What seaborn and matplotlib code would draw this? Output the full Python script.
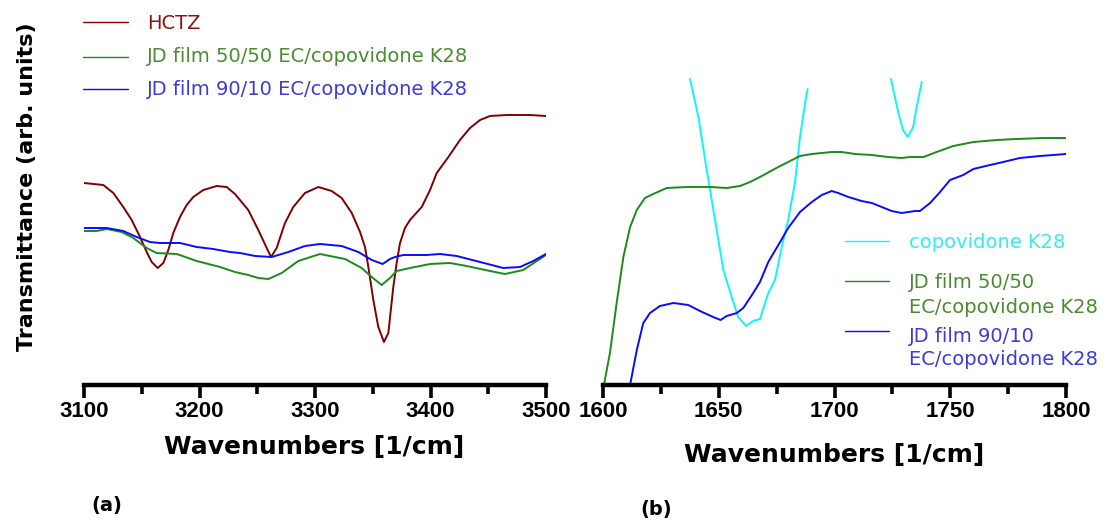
import matplotlib
matplotlib.use("Agg")
import matplotlib.pyplot as plt
from matplotlib.lines import Line2D
from matplotlib.ticker import MultipleLocator
import seaborn as sns

# ---------------- data: (a) 3100-3500 cm^-1 region ----------------
hctz_wn = [3100, 3116.7, 3125.4, 3134.0, 3141.3, 3148.5, 3154.3, 3158.6, 3163.8, 3168.7,
           3173.0, 3177.3, 3183.1, 3188.9, 3194.6, 3203.3, 3214.9, 3223.5, 3230.7, 3242.2,
           3250.9, 3258.2, 3261.9, 3266.8, 3274.0, 3281.2, 3291.3, 3302.9, 3314.4, 3323.1,
           3331.8, 3339.0, 3343.3, 3346.2, 3350.5, 3354.8, 3359.7, 3363.5, 3367.8, 3370.7,
           3373.6, 3377.9, 3382.2, 3392.4, 3399.6, 3405.4, 3415.5, 3425.5, 3434.2, 3442.9,
           3451.5, 3466.0, 3486.1, 3500]
hctz_t = [202, 200, 192, 178, 165, 148, 133, 123, 117, 122,
          135, 152, 168, 180, 188, 195, 199, 198, 191, 175,
          155, 137, 128, 137, 162, 178, 192, 198, 194, 187,
          172, 153, 138, 118, 85, 58, 43, 52, 98, 122,
          142, 157, 165, 178, 195, 212, 228, 245, 257, 265,
          269, 270, 270, 269]

film5050_a_wn = [3100, 3111.0, 3119.7, 3132.6, 3142.7, 3154.3, 3162.9, 3180.3, 3197.6, 3217.8,
                 3230.7, 3242.2, 3250.9, 3259.6, 3271.2, 3285.5, 3304.3, 3326.0, 3340.4, 3349.1,
                 3357.7, 3364.9, 3370.7, 3382.2, 3399.6, 3416.9, 3431.3, 3451.5, 3464.5, 3480.3, 3500]
film5050_a_t = [154, 154, 156, 153, 147, 137, 132, 131, 124, 118,
                113, 110, 107, 106, 112, 124, 131, 126, 117, 108,
                100, 107, 114, 117, 121, 122, 119, 114, 111, 115, 130]

film9010_a_wn = [3100, 3119.7, 3134.0, 3145.6, 3157.1, 3165.8, 3183.1, 3197.6, 3211.9, 3226.4,
                 3235.1, 3248.1, 3262.5, 3276.9, 3291.3, 3304.3, 3323.1, 3337.5, 3349.1, 3358.6,
                 3364.9, 3369.3, 3376.4, 3396.7, 3408.2, 3422.7, 3442.9, 3463.0, 3477.5, 3489.0, 3500]
film9010_a_t = [157, 157, 154, 148, 143, 142, 142, 138, 136, 133,
                132, 129, 128, 133, 139, 141, 139, 133, 125, 121,
                126, 128, 130, 130, 131, 129, 123, 117, 118, 124, 131]

# ---------------- data: (b) 1600-1800 cm^-1 region ----------------
copo_band1_wn = [1637.6, 1641.2, 1644.8, 1648.4, 1652.0, 1655.6, 1658.4, 1661.8, 1664.9, 1667.8,
                 1671.4, 1674.3, 1677.2, 1680.0, 1682.9, 1685.1, 1687.3, 1688.4]
copo_band1_t = [306, 268, 215, 165, 115, 88, 68, 59, 64, 66,
                92, 105, 138, 165, 202, 248, 282, 296]
copo_band2_wn = [1724.4, 1727.6, 1729.6, 1731.6, 1734.0, 1735.5, 1737.7]
copo_band2_t = [306, 272, 255, 248, 258, 278, 303]

film5050_b_wn = [1600.4, 1603.0, 1605.9, 1608.8, 1611.7, 1614.6, 1618.1, 1621.7, 1627.5, 1636.2,
                 1646.2, 1653.4, 1659.2, 1663.5, 1667.8, 1675.7, 1685.1, 1690.2, 1698.8, 1703.1,
                 1708.9, 1716.1, 1723.2, 1729.0, 1732.6, 1738.4, 1744.1, 1751.3, 1760.0, 1770.1,
                 1778.7, 1790.2, 1800]
film5050_b_t = [0, 32, 82, 128, 158, 175, 187, 191, 197, 198,
                198, 197, 199, 203, 208, 218, 229, 231, 233, 233,
                231, 230, 228, 227, 228, 228, 233, 239, 243, 245,
                246, 247, 247]

film9010_b_wn = [1611.7, 1614.6, 1617.4, 1620.3, 1624.6, 1630.4, 1636.8, 1641.9, 1647.6, 1650.8,
                 1653.4, 1657.8, 1660.6, 1664.9, 1667.8, 1671.4, 1676.5, 1680.0, 1685.1, 1690.2,
                 1694.5, 1698.8, 1701.6, 1706.0, 1711.7, 1716.1, 1720.4, 1724.7, 1729.0, 1734.8,
                 1736.9, 1741.3, 1745.6, 1749.9, 1755.6, 1760.0, 1767.2, 1772.9, 1780.1, 1788.8,
                 1794.5, 1800]
film9010_b_t = [0, 35, 62, 72, 79, 82, 80, 74, 68, 65,
                69, 72, 77, 92, 103, 123, 143, 157, 173, 183,
                190, 194, 192, 188, 184, 182, 178, 174, 172, 174,
                174, 182, 193, 205, 210, 216, 220, 223, 227, 229,
                230, 231]

label_hctz = "HCTZ"
label_copo = "copovidone K28"
label_5050 = "JD film 50/50 EC/copovidone K28"
label_9010 = "JD film 90/10 EC/copovidone K28"
label_5050_wrapped = ["JD film 50/50", "EC/copovidone K28"]
label_9010_wrapped = ["JD film 90/10", "EC/copovidone K28"]

# ---------------- style ----------------
sns.set_style("white")
plt.rcParams["font.family"] = ["DejaVu Sans"]
plt.rcParams["text.color"] = "black"
plt.rcParams["xtick.color"] = "black"
plt.rcParams["xtick.labelcolor"] = "black"

C_HCTZ = "#7f0000"
C_5050 = "#1c8a1c"
C_9010 = "#0a0aff"
C_COPO = "#10f5f5"
T_HCTZ = "#8b1212"
T_5050 = "#4d8b31"
T_9010 = "#3c3cd4"
T_COPO = "#33eeee"
LW = 1.4

W, H = 1107, 522
fig = plt.figure(figsize=(W / 100, H / 100), dpi=100)


def px_box(left, right, top, bottom):
    return [left / W, 1 - bottom / H, (right - left) / W, (bottom - top) / H]


ax_a = fig.add_axes(px_box(84, 546, 10, 385))
ax_b = fig.add_axes(px_box(603, 1066, 78, 385))

line_kw = dict(linewidth=LW, solid_joinstyle="round", solid_capstyle="round")
sns.lineplot(x=hctz_wn, y=hctz_t, ax=ax_a, color=C_HCTZ, **line_kw)
sns.lineplot(x=film5050_a_wn, y=film5050_a_t, ax=ax_a, color=C_5050, **line_kw)
sns.lineplot(x=film9010_a_wn, y=film9010_a_t, ax=ax_a, color=C_9010, **line_kw)

sns.lineplot(x=copo_band1_wn, y=copo_band1_t, ax=ax_b, color=C_COPO, **line_kw)
sns.lineplot(x=copo_band2_wn, y=copo_band2_t, ax=ax_b, color=C_COPO, **line_kw)
sns.lineplot(x=film5050_b_wn, y=film5050_b_t, ax=ax_b, color=C_5050, **line_kw)
sns.lineplot(x=film9010_b_wn, y=film9010_b_t, ax=ax_b, color=C_9010, **line_kw)

ax_a.set_xlim(3100, 3500)
ax_a.set_ylim(0, 375)
ax_b.set_xlim(1600, 1800)
ax_b.set_ylim(0, 307)
ax_a.xaxis.set_major_locator(MultipleLocator(100))
ax_a.xaxis.set_minor_locator(MultipleLocator(50))
ax_b.xaxis.set_major_locator(MultipleLocator(50))
ax_b.xaxis.set_minor_locator(MultipleLocator(25))

for ax in (ax_a, ax_b):
    ax.set_facecolor("none")
    for side in ("left", "right", "top"):
        ax.spines[side].set_visible(False)
    ax.spines["bottom"].set_linewidth(3.2)
    ax.spines["bottom"].set_color("black")
    ax.spines["bottom"].set_capstyle("projecting")
    ax.set_yticks([])
    ax.set_xlabel("")
    ax.set_ylabel("")
    ax.tick_params(axis="x", which="both", bottom=True, top=False)
    ax.tick_params(axis="x", which="major", direction="out", length=9, width=2.6,
                   color="black", pad=2.5)
    ax.tick_params(axis="x", which="minor", direction="out", length=6.5, width=2.6,
                   color="black")
    for lab in ax.get_xticklabels():
        lab.set_fontfamily("Liberation Sans")
        lab.set_fontweight("bold")
        lab.set_fontsize(16)
        lab.set_color("black")

# ---------------- text ----------------
def ftext(x, y, s, **kw):
    return fig.text(x / W, 1 - y / H, s, **kw)


def centered_line(x, y_center, s, size, color):
    # cap height centred on y_center (pixels from the top edge)
    base = y_center + 0.365 * size * 100 / 72
    ftext(x, base, s, fontsize=size, color=color, ha="left", va="baseline")


ftext(27, 187, "Transmittance (arb. units)", fontsize=16, fontweight="bold",
      rotation=90, ha="center", va="center", color="black")
ftext(314, 447, "Wavenumbers [1/cm]", fontsize=18, fontweight="bold",
      ha="center", va="center", color="black")
ftext(834, 455, "Wavenumbers [1/cm]", fontsize=18, fontweight="bold",
      ha="center", va="center", color="black")
ftext(107, 505, "(a)", fontsize=14, fontweight="bold", ha="center", va="center",
      color="black")
ftext(656, 509, "(b)", fontsize=14, fontweight="bold", ha="center", va="center",
      color="black")


def key_line(x0, x1, y, color):
    fig.add_artist(Line2D([x0 / W, x1 / W], [1 - y / H, 1 - y / H],
                          transform=fig.transFigure, color=color, linewidth=1.0))


LEG_FS = 14
# key of (a)
key_line(83, 128, 22, C_HCTZ)
centered_line(147, 22, label_hctz, LEG_FS, T_HCTZ)
key_line(83, 128, 57, C_5050)
centered_line(147, 55, label_5050, LEG_FS, T_5050)
key_line(83, 128, 89, C_9010)
centered_line(147, 88, label_9010, LEG_FS, T_9010)

# key of (b)
key_line(845, 889, 241, C_COPO)
centered_line(909, 241, label_copo, LEG_FS, T_COPO)
key_line(845, 889, 281, C_5050)
centered_line(909, 281, label_5050_wrapped[0], LEG_FS, T_5050)
centered_line(909, 306, label_5050_wrapped[1], LEG_FS, T_5050)
key_line(845, 889, 331, C_9010)
centered_line(909, 335, label_9010_wrapped[0], LEG_FS, T_9010)
centered_line(909, 358, label_9010_wrapped[1], LEG_FS, T_9010)

fig.savefig("out.png", dpi=100)
